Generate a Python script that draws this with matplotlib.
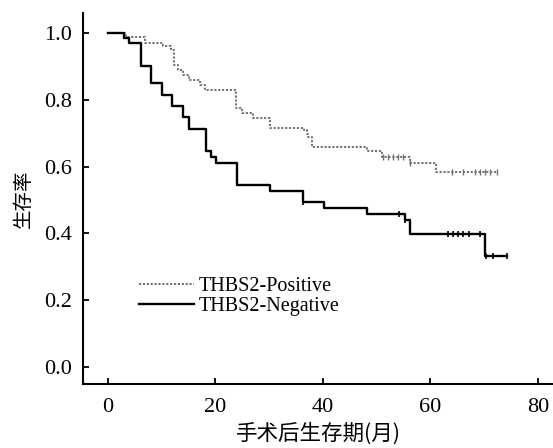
import numpy as np
import matplotlib
matplotlib.use("Agg")
import matplotlib.pyplot as plt

plt.rcParams['font.family'] = ['Liberation Serif', 'Noto Sans CJK SC']

# THBS2-Positive group (event times in months, survival after each step)
pos_time = [0, 3.3, 6.9, 10.2, 11.8, 12.2, 13.1, 14.0, 15.1, 17.1, 18.0, 23.9, 25.0,
            27.0, 30.1, 36.4, 37.0, 37.3, 38.0, 48.2, 50.9, 56.2, 61.1, 72.3]
pos_surv = [1.0, 0.989, 0.971, 0.961, 0.95, 0.904, 0.889, 0.874, 0.859, 0.844, 0.829,
            0.775, 0.759, 0.744, 0.717, 0.709, 0.699, 0.688, 0.659, 0.647, 0.63, 0.61,
            0.585, 0.585]
pos_cens = [51.2, 52.1, 53.1, 54.0, 54.9, 56.2, 64.1, 66.1, 68.3, 69.2, 70.1, 71.1, 72.3]

# THBS2-Negative group
neg_time = [0, 3.0, 4.0, 6.1, 8.0, 10.0, 12.0, 14.0, 15.1, 18.2, 19.1, 20.1, 24.1,
            30.1, 36.2, 40.2, 48.2, 55.3, 56.2, 70.1, 74.2]
neg_surv = [1.0, 0.984, 0.969, 0.901, 0.851, 0.814, 0.781, 0.747, 0.714, 0.647, 0.63,
            0.611, 0.545, 0.527, 0.493, 0.477, 0.457, 0.44, 0.398, 0.332, 0.332]
neg_cens = [36.2, 54.2, 55.3, 63.3, 64.2, 65.1, 66.1, 67.1, 69.2, 70.4, 71.7, 74.2]

x_ticks = [0, 20, 40, 60, 80]
y_ticks = [0.0, 0.2, 0.4, 0.6, 0.8, 1.0]


def surv_at(times, surv, t):
    # value of the step function just after t
    idx = np.searchsorted(times, t, side='right') - 1
    return np.array(surv)[idx]


fig = plt.figure(figsize=(5.53, 4.48), dpi=100)
ax = fig.add_axes([0.150, 0.143, 0.85, 0.828])

ax.step(pos_time, pos_surv, where='post', color='#707070', lw=1.4,
        linestyle=(0, (1.1, 0.9)), label='THBS2-Positive')
ax.step(neg_time, neg_surv, where='post', color='black', lw=1.7,
        label='THBS2-Negative')

ax.plot(pos_cens, surv_at(pos_time, pos_surv, pos_cens), linestyle='none',
        marker='|', ms=5, mew=1.0, color='#707070')
ax.plot(neg_cens, surv_at(neg_time, neg_surv, neg_cens), linestyle='none',
        marker='|', ms=5, mew=1.2, color='black')

ax.set_xlim(-4.65, 82.8)
ax.set_ylim(-0.051, 1.06)
ax.set_xticks(x_ticks)
ax.set_yticks(y_ticks)
ax.set_yticklabels(['%.1f' % v for v in y_ticks])
ax.tick_params(direction='in', length=4, width=1.3, labelsize=16)
ax.tick_params(axis='x', pad=10)
ax.tick_params(axis='y', pad=8)
for s in ['top', 'right']:
    ax.spines[s].set_visible(False)
for s in ['left', 'bottom']:
    ax.spines[s].set_linewidth(1.5)

ax.set_xlabel('手术后生存期(月)', fontsize=15.5, family=['Noto Sans CJK SC'], labelpad=4)
ax.set_ylabel('生存率', fontsize=14, family=['Noto Sans CJK SC'], labelpad=7)

ax.legend(loc='lower left', bbox_to_anchor=(0.09, 0.145), frameon=False,
          fontsize=14.5, handlelength=2.7, handletextpad=0.25, labelspacing=0.05,
          borderpad=0.2)

fig.savefig('out.png', dpi=100)
